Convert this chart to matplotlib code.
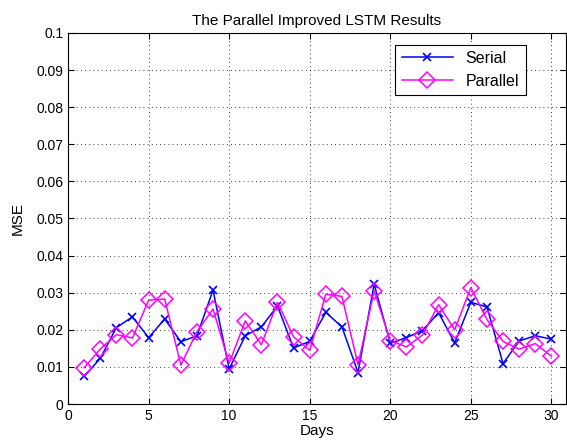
import matplotlib
matplotlib.use('Agg')
import matplotlib.pyplot as plt

plt.rcParams['font.family'] = ['Liberation Sans', 'DejaVu Sans']

days = list(range(1, 31))
serial = [0.0075, 0.0123, 0.0206, 0.0235, 0.0179, 0.0229, 0.0168, 0.0184, 0.0307, 0.0094,
          0.0184, 0.0208, 0.0264, 0.0151, 0.0169, 0.0247, 0.0208, 0.0085, 0.0323, 0.0164,
          0.0179, 0.0198, 0.0246, 0.0165, 0.0274, 0.0262, 0.0109, 0.0170, 0.0184, 0.0175]
parallel = [0.0098, 0.0148, 0.0187, 0.0178, 0.0280, 0.0283, 0.0105, 0.0195, 0.0256, 0.0110,
            0.0224, 0.0160, 0.0274, 0.0181, 0.0145, 0.0296, 0.0290, 0.0106, 0.0305, 0.0171,
            0.0154, 0.0186, 0.0268, 0.0200, 0.0314, 0.0228, 0.0169, 0.0148, 0.0163, 0.0129]

fig = plt.figure(figsize=(5.67, 4.45), dpi=100)
ax = fig.add_axes([0.12, 0.092, 0.878, 0.834])

ax.plot(days, serial, color='#0000ff', marker='x', markersize=6, markeredgewidth=1.2,
        linewidth=1.1, label='Serial')
ax.plot(days, parallel, color='#ff00ff', marker='D', markersize=8, markerfacecolor='none',
        markeredgewidth=1.1, linewidth=1.1, label='Parallel')

ax.set_xlim(0, 30.9)
ax.set_ylim(0, 0.1)
ax.set_xticks(range(0, 31, 5))
ax.set_yticks([i / 100 for i in range(11)])
ax.set_yticklabels(['0'] + ['%g' % (i / 100) for i in range(1, 11)])
ax.tick_params(direction='in', labelsize=10, top=True, right=True, length=4)
ax.grid(True, linestyle=(0, (1, 4)), color='black', linewidth=0.6)

ax.set_xlabel('Days', fontsize=11, labelpad=1)
ax.set_ylabel('MSE', fontsize=11, labelpad=8)
ax.set_title('The Parallel Improved LSTM Results', fontsize=11)

leg = ax.legend(loc='upper right', bbox_to_anchor=(0.935, 0.99), fontsize=11.5,
                fancybox=False, framealpha=1, edgecolor='black', handlelength=3.2)
leg.get_frame().set_linewidth(0.8)

plt.savefig('out.png', dpi=100)
